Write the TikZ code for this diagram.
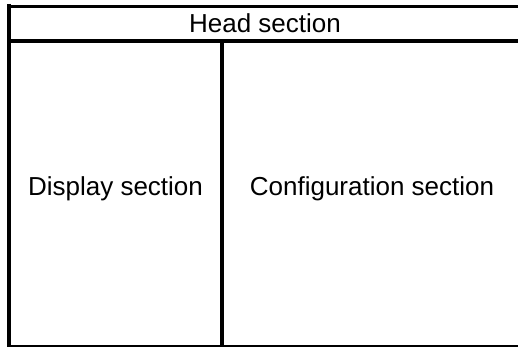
\documentclass[tikz,border=0pt]{standalone}
\usepackage{fontspec}
\setmainfont{Liberation Sans}
\usepackage{tikz}
\usetikzlibrary{positioning}
\tikzstyle{every node}=[inner sep=0pt]
\tikzstyle{section}=[font=\fontsize{26}{30}\selectfont, anchor=center]
\tikzstyle{border}=[line width=3.5pt, black]
\tikzstyle{baseline}=[line width=1.5pt, black]

\begin{document}
\begin{tikzpicture}[x=1pt, y=-1pt]
	\useasboundingbox (0,0) rectangle (518,347);

	\coordinate (tl) at (7,6.7);
	\coordinate (tr) at (518,6.7);
	\coordinate (lt) at (9,4);
	\coordinate (lb) at (9,347);
	\coordinate (hl) at (9,41);
	\coordinate (hr) at (518,41);
	\coordinate (dt) at (222,41);
	\coordinate (db) at (222,346);
	\coordinate (bl) at (9,346);
	\coordinate (br) at (518,346);

	\node[section] at (265,23) (head) {Head section};
	\node[section] at (115.5,189) (display) {Display section};
	\node[section] at (372,189) (config) {Configuration section};

	\draw[border] (tl) -- (tr);
	\draw[border] (lt) -- (lb);
	\draw[border] (hl) -- (hr);
	\draw[border] (dt) -- (db);
	\draw[baseline] (bl) -- (br);

\end{tikzpicture}
\end{document}
